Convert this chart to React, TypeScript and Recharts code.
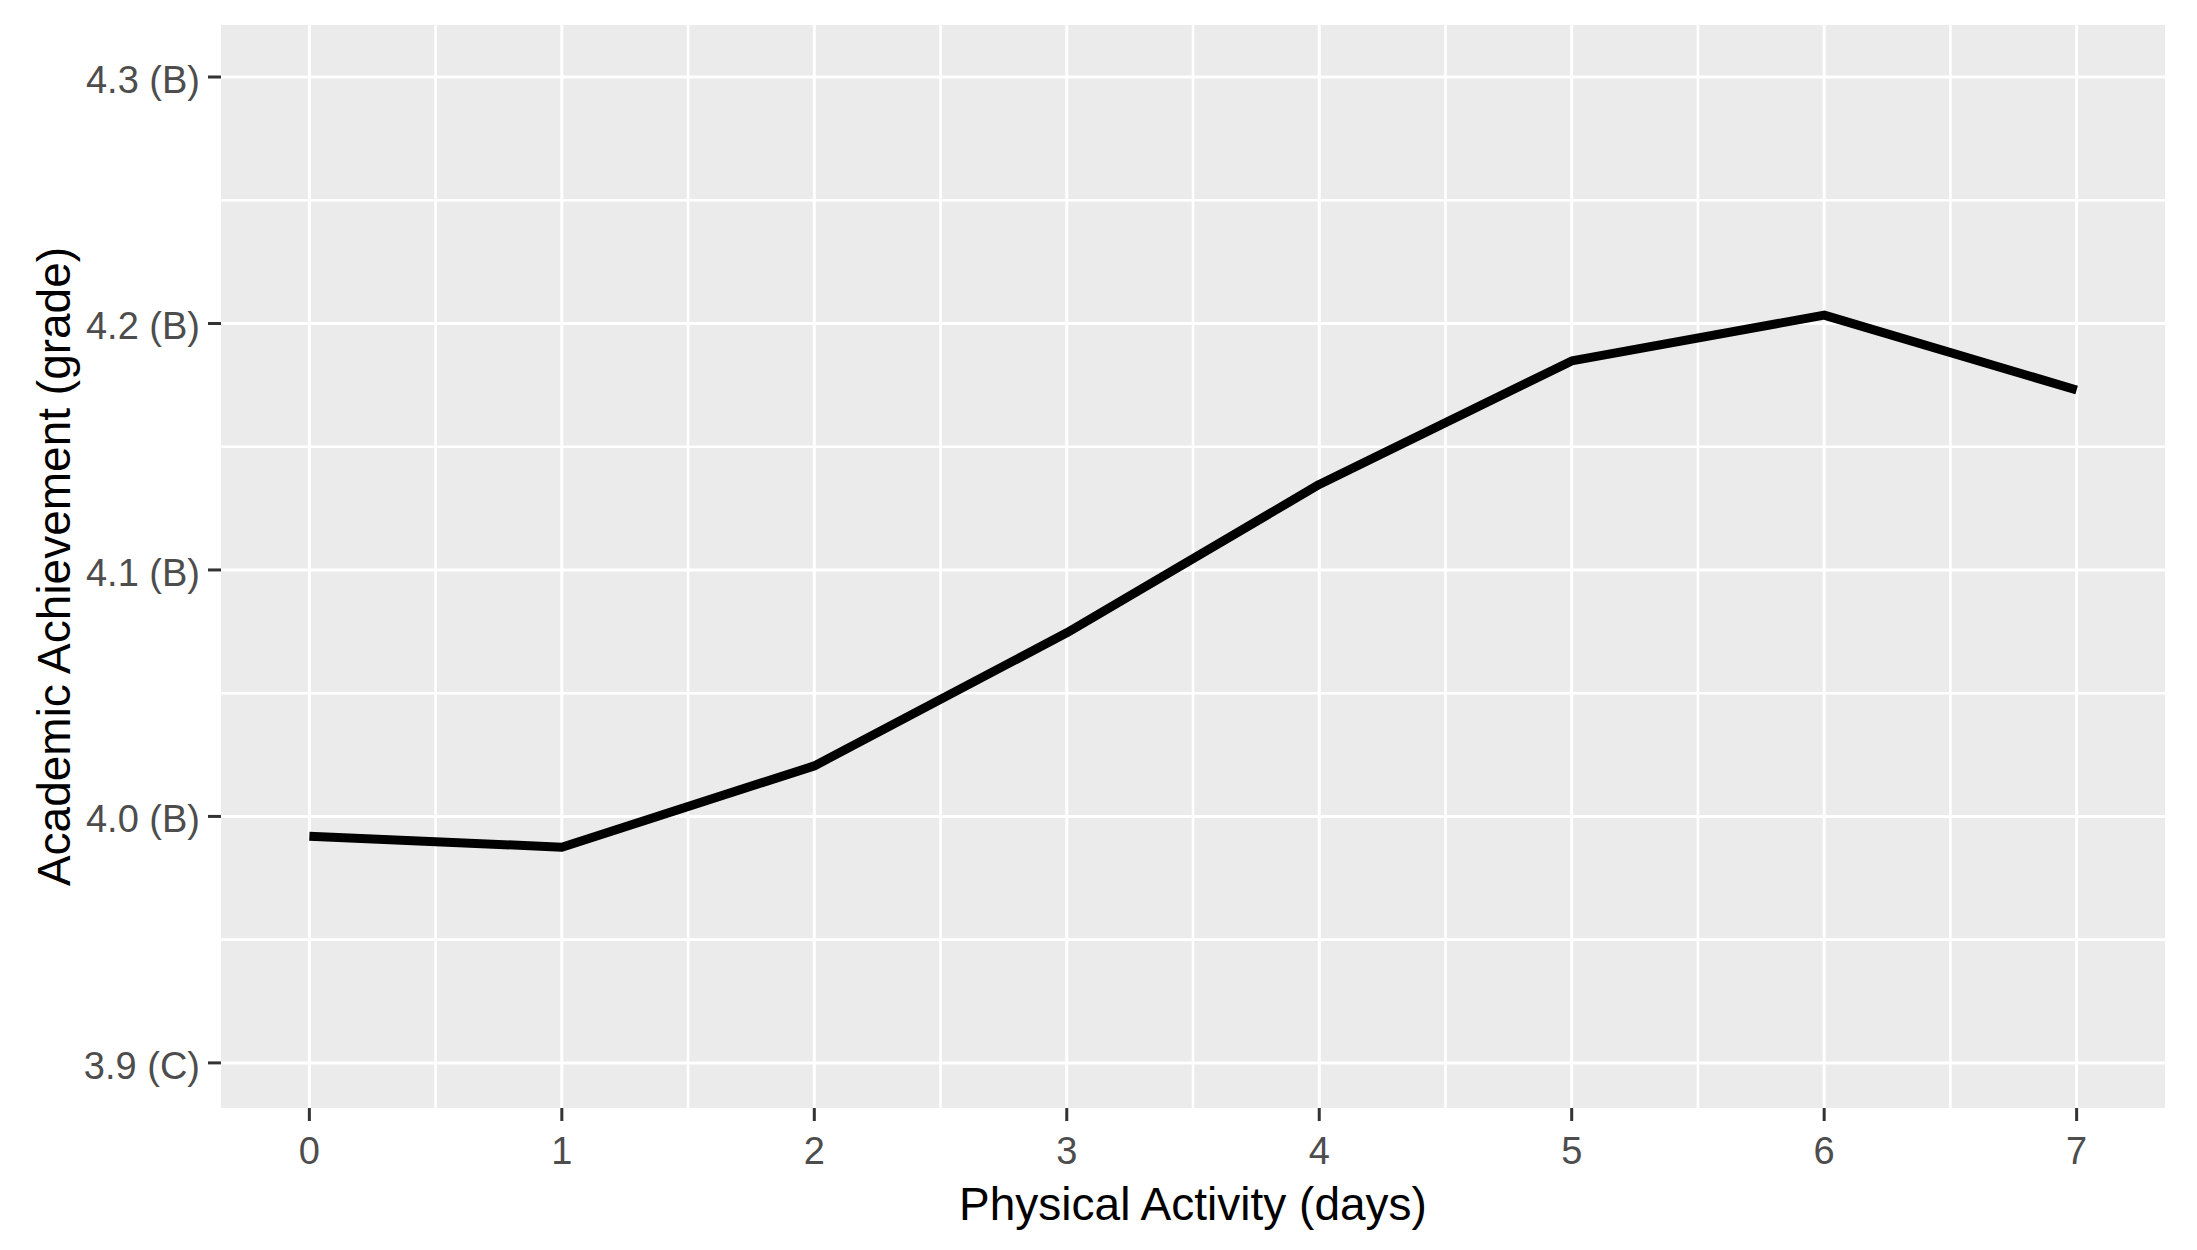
import React from "react";
import { LineChart, Line, XAxis, YAxis, CartesianGrid } from "recharts";

const days = [0, 1, 2, 3, 4, 5, 6, 7];
const achievement = [3.992, 3.9875, 4.0205, 4.0745, 4.1347, 4.1848, 4.2034, 4.173];

const xTicks = [0, 1, 2, 3, 4, 5, 6, 7];
const xMinor = [0.5, 1.5, 2.5, 3.5, 4.5, 5.5, 6.5];
const yTicks = [3.9, 4.0, 4.1, 4.2, 4.3];
const yTickLabels = ["3.9 (C)", "4.0 (B)", "4.1 (B)", "4.2 (B)", "4.3 (B)"];
const yMinor = [3.95, 4.05, 4.15, 4.25];

const xTitle = "Physical Activity (days)";
const yTitle = "Academic Achievement (grade)";

const data = days.map((d, i) => ({ day: d, value: achievement[i] }));

const FONT = "'Liberation Sans', Arial, Helvetica, sans-serif";

const XTick = (props: any) => {
  const { x, y, payload } = props;
  return (
    <text x={x} y={y} dy="0.72em" textAnchor="middle" fontFamily={FONT} fontSize={38} fill="#4D4D4D">
      {String(payload.value)}
    </text>
  );
};

const YTick = (props: any) => {
  const { x, y, payload } = props;
  const idx = yTicks.findIndex((t) => Math.abs(t - payload.value) < 1e-9);
  const label = idx >= 0 ? yTickLabels[idx] : String(payload.value);
  return (
    <text x={x} y={y} dy="0.42em" textAnchor="end" fontFamily={FONT} fontSize={38} fill="#4D4D4D">
      {label}
    </text>
  );
};

export default function App() {
  return (
    <div style={{ position: "absolute", left: 0, top: 0, background: "#FFFFFF" }}>
      <LineChart
        width={2197}
        height={1250}
        data={data}
        margin={{ top: 25, right: 32, left: 0, bottom: 0 }}
      >
        <CartesianGrid
          fill="#EBEBEB"
          stroke="#FFFFFF"
          strokeWidth={2.6}
          horizontalValues={yMinor}
          verticalValues={xMinor}
        />
        <CartesianGrid
          stroke="#FFFFFF"
          strokeWidth={3}
          horizontalValues={yTicks}
          verticalValues={xTicks}
        />
        <XAxis
          dataKey="day"
          type="number"
          domain={[-0.35, 7.35]}
          ticks={xTicks}
          allowDataOverflow
          height={142}
          axisLine={false}
          tickSize={13}
          tickMargin={16}
          tickLine={{ stroke: "#333333", strokeWidth: 3 }}
          tick={<XTick />}
          interval={0}
          label={{
            content: (p: any) => {
              const vb = p.viewBox || { x: 221, width: 1944 };
              return (
                <text x={vb.x + vb.width / 2} y={1220} textAnchor="middle" fontFamily={FONT} fontSize={46} fill="#000000">
                  {xTitle}
                </text>
              );
            },
          }}
        />
        <YAxis
          type="number"
          domain={[3.8817, 4.3211]}
          ticks={yTicks}
          allowDataOverflow
          width={221}
          axisLine={false}
          tickSize={13}
          tickMargin={8}
          tickLine={{ stroke: "#333333", strokeWidth: 3 }}
          tick={<YTick />}
          interval={0}
          label={{
            content: (p: any) => {
              const vb = p.viewBox || { y: 25, height: 1083 };
              const cy = vb.y + vb.height / 2;
              return (
                <text
                  x={70}
                  y={cy}
                  transform={`rotate(-90, 70, ${cy})`}
                  textAnchor="middle"
                  fontFamily={FONT}
                  fontSize={46}
                  fill="#000000"
                >
                  {yTitle}
                </text>
              );
            },
          }}
        />
        <Line
          type="linear"
          dataKey="value"
          stroke="#000000"
          strokeWidth={9}
          strokeLinecap="butt"
          strokeLinejoin="round"
          dot={false}
          activeDot={false}
          isAnimationActive={false}
        />
      </LineChart>
    </div>
  );
}
